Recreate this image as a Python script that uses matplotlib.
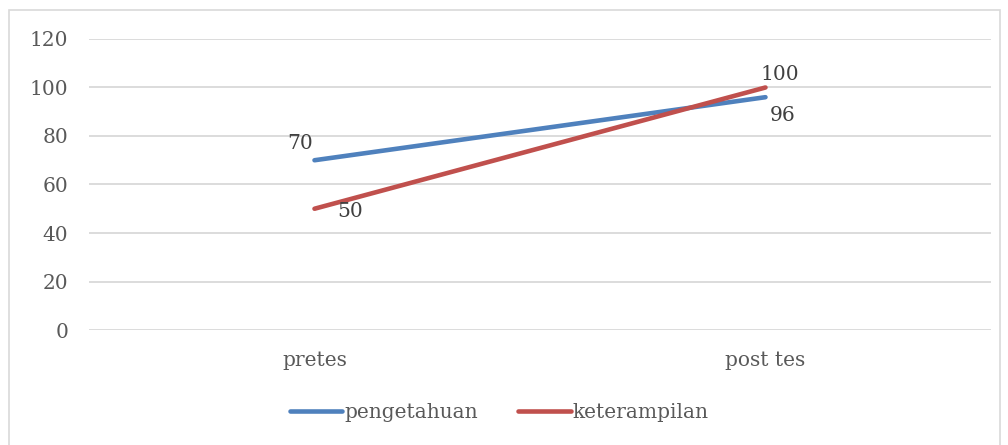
"""Line chart of pretes / post tes scores for knowledge and skills."""

import matplotlib

matplotlib.use("Agg")
import matplotlib.pyplot as plt
from matplotlib.patches import Rectangle

categories = ["pretes", "post tes"]
pengetahuan = [70, 96]
keterampilan = [50, 100]
y_ticks = [0, 20, 40, 60, 80, 100, 120]

BLUE = "#4F81BD"
RED = "#C0504D"
TEXT = "#595959"
GRID = "#D9D9D9"
FS = 14.5

plt.rcParams["font.family"] = ["DejaVu Serif"]

fig = plt.figure(figsize=(10.08, 4.45), dpi=100)
ax = fig.add_axes([0.0883, 0.2584, 0.8948, 0.654])

x = list(range(len(categories)))
ax.plot(x, pengetahuan, color=BLUE, linewidth=3.3, solid_capstyle="round",
        label="pengetahuan", zorder=3)
ax.plot(x, keterampilan, color=RED, linewidth=3.3, solid_capstyle="round",
        label="keterampilan", zorder=3)

# data labels, placed roughly where the spreadsheet put them
label_style = dict(textcoords="offset points", fontsize=FS, color="#404040")
ax.annotate(str(pengetahuan[0]), (x[0], pengetahuan[0]), xytext=(-10, 12),
            ha="center", va="center", **label_style)
ax.annotate(str(pengetahuan[1]), (x[1], pengetahuan[1]), xytext=(12, -13),
            ha="center", va="center", **label_style)
ax.annotate(str(keterampilan[0]), (x[0], keterampilan[0]), xytext=(26, -2),
            ha="center", va="center", **label_style)
ax.annotate(str(keterampilan[1]), (x[1], keterampilan[1]), xytext=(10, 9),
            ha="center", va="center", **label_style)

ax.set_xlim(-0.5, 1.5)
ax.set_ylim(0, 120)
ax.set_xticks(x)
ax.set_xticklabels(categories)
ax.set_yticks(y_ticks)
ax.tick_params(axis="both", length=0, labelsize=FS, labelcolor=TEXT)
ax.tick_params(axis="y", pad=15)
ax.tick_params(axis="x", pad=15)
ax.grid(axis="y", color=GRID, linewidth=1.3)
ax.set_axisbelow(True)
for side in ax.spines.values():
    side.set_visible(False)

leg = ax.legend(loc="upper center", bbox_to_anchor=(0.455, -0.19), ncol=2,
                frameon=False, fontsize=FS, handlelength=2.6, handletextpad=0.1,
                columnspacing=2.0)
for t in leg.get_texts():
    t.set_color(TEXT)

# outer chart-area border
fig.patches.append(Rectangle((9 / 1008, -0.05), 991 / 1008, 0.05 + 435 / 445,
                             transform=fig.transFigure, fill=False,
                             edgecolor=GRID, linewidth=1.2))

fig.savefig("out.png", dpi=100)
